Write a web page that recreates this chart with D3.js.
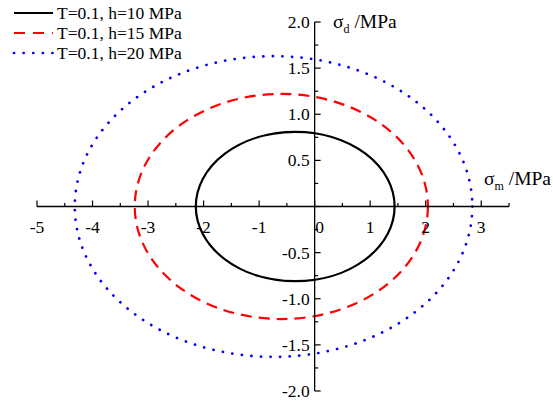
<!DOCTYPE html>
<html>
<head>
<meta charset="utf-8">
<title>yield ellipses</title>
<style>
body{margin:0;background:#fff;}
svg{display:block;font-family:"Times New Roman","Liberation Serif",serif;}
</style>
</head>
<body>
<svg id="chart" width="553" height="403"></svg>
<script src="https://cdn.jsdelivr.net/npm/d3@7/dist/d3.min.js"></script>
<script>
// series: ellipse centre and half axes
var names = ["T=0.1, h=10 MPa", "T=0.1, h=15 MPa", "T=0.1, h=20 MPa"];
var centerX = [-0.35, -0.60, -0.74];
var radiusX = [1.79, 2.64, 3.58];
var radiusY = [0.81, 1.22, 1.63];
var colors = ["#000000", "#ff0000", "#0000ff"];

var xTicks = [-5, -4, -3, -2, -1, 0, 1, 2, 3];
var yTicks = [-2.0, -1.5, -1.0, -0.5, 0.5, 1.0, 1.5, 2.0];

var svg = d3.select("#chart");
var x = d3.scaleLinear().domain([-5, 3.5]).range([37, 509]);
var y = d3.scaleLinear().domain([-2, 2]).range([391, 22]);

var dash = ["none", "11,7", "0.1,9.5"];
var caps = ["butt", "butt", "round"];
var widths = [2.2, 2.2, 2.7];

// ellipses
svg.selectAll("ellipse.s").data(names).enter().append("ellipse")
  .attr("class", "s")
  .attr("cx", function(d, i){ return x(centerX[i]); })
  .attr("cy", y(0))
  .attr("rx", function(d, i){ return x(centerX[i] + radiusX[i]) - x(centerX[i]); })
  .attr("ry", function(d, i){ return y(0) - y(radiusY[i]); })
  .attr("fill", "none")
  .attr("stroke", function(d, i){ return colors[i]; })
  .attr("stroke-width", function(d, i){ return widths[i]; })
  .attr("stroke-dasharray", function(d, i){ return dash[i]; })
  .attr("stroke-linecap", function(d, i){ return caps[i]; });

// x axis through origin, ticks pointing up
var xg = svg.append("g").attr("transform", "translate(0," + y(0) + ")");
xg.append("line").attr("x1", x(-5)).attr("x2", x(3.5)).attr("stroke", "#000").attr("stroke-width", 1.3);
xg.selectAll("line.mj").data(xTicks).enter().append("line")
  .attr("x1", function(d){ return x(d); }).attr("x2", function(d){ return x(d); })
  .attr("y1", 0).attr("y2", -6).attr("stroke", "#000").attr("stroke-width", 1.2);
xg.selectAll("line.mn").data(d3.range(-4.5, 3.6, 1)).enter().append("line")
  .attr("x1", function(d){ return x(d); }).attr("x2", function(d){ return x(d); })
  .attr("y1", 0).attr("y2", -3.5).attr("stroke", "#000").attr("stroke-width", 1.2);
xg.selectAll("text").data(xTicks).enter().append("text")
  .attr("x", function(d){ return x(d) + (d === 0 ? 5 : 0); })
  .attr("y", 26).attr("text-anchor", "middle")
  .attr("font-size", 17.5)
  .text(function(d){ return d; });

// y axis through origin, ticks pointing right
var yg = svg.append("g").attr("transform", "translate(" + x(0) + ",0)");
yg.append("line").attr("y1", y(-2)).attr("y2", y(2)).attr("stroke", "#000").attr("stroke-width", 1.3);
yg.selectAll("line.mj").data(yTicks.concat([0])).enter().append("line")
  .attr("y1", function(d){ return y(d); }).attr("y2", function(d){ return y(d); })
  .attr("x1", 0).attr("x2", 6).attr("stroke", "#000").attr("stroke-width", 1.2);
yg.selectAll("line.mn").data(d3.range(-1.75, 2, 0.5)).enter().append("line")
  .attr("y1", function(d){ return y(d); }).attr("y2", function(d){ return y(d); })
  .attr("x1", 0).attr("x2", 3.5).attr("stroke", "#000").attr("stroke-width", 1.2);
yg.selectAll("text").data(yTicks).enter().append("text")
  .attr("x", -5).attr("y", function(d){ return y(d) + 6; })
  .attr("text-anchor", "end").attr("font-size", 17.5)
  .text(function(d){ return d3.format(".1f")(d).replace("−", "-"); });

// axis titles
var ty = svg.append("text").attr("x", 333).attr("y", 28).attr("font-size", 19.5);
ty.append("tspan").text("σ");
ty.append("tspan").attr("font-size", 12).attr("dy", 5).text("d");
ty.append("tspan").attr("dy", -5).text(" /MPa");

var tx = svg.append("text").attr("x", 484).attr("y", 185).attr("font-size", 19.5);
tx.append("tspan").text("σ");
tx.append("tspan").attr("font-size", 12).attr("dy", 5).text("m");
tx.append("tspan").attr("dy", -5).text(" /MPa");

// legend
var lg = svg.selectAll("g.lg").data(names).enter().append("g")
  .attr("transform", function(d, i){ return "translate(0," + (13 + i * 20) + ")"; });
lg.append("line").attr("x1", 14).attr("x2", 53).attr("y1", 0).attr("y2", 0)
  .attr("stroke", function(d, i){ return colors[i]; })
  .attr("stroke-width", function(d, i){ return widths[i]; })
  .attr("stroke-dasharray", function(d, i){ return i === 1 ? "11,8" : dash[i]; })
  .attr("stroke-linecap", function(d, i){ return caps[i]; });
lg.append("text").attr("x", 57).attr("y", 6).attr("font-size", 17.5)
  .text(function(d){ return d; });
</script>
</body>
</html>
